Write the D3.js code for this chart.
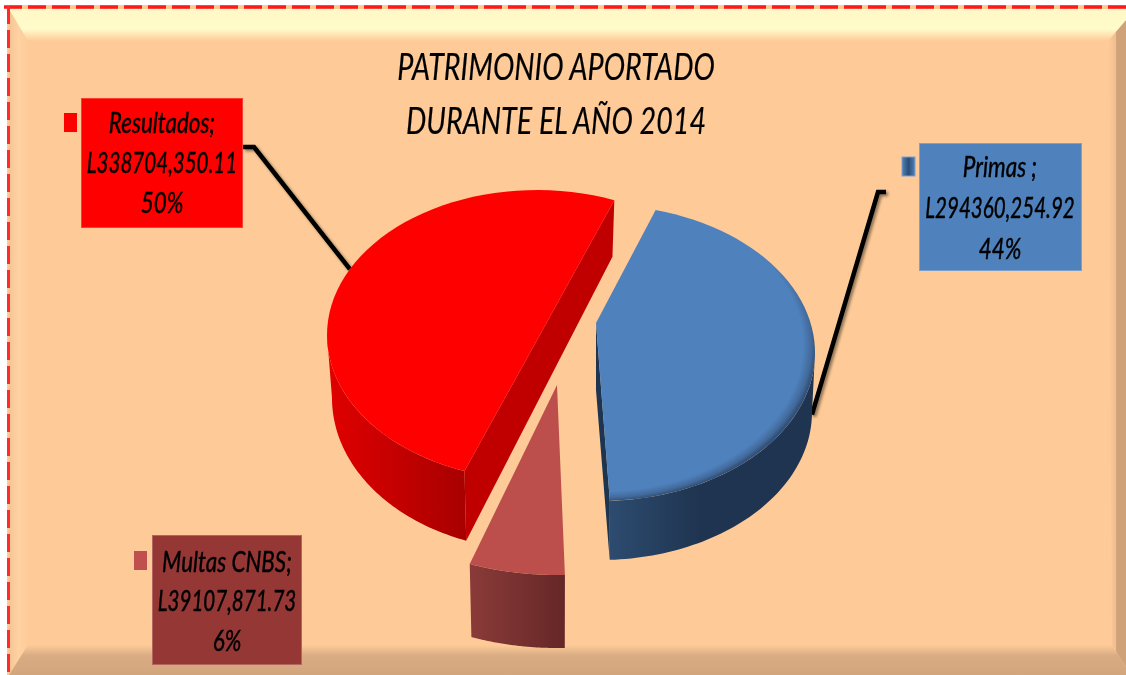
<!DOCTYPE html>
<html><head><meta charset="utf-8">
<script src="https://cdn.jsdelivr.net/npm/d3@7"></script>
<style>html,body{margin:0;padding:0;background:#fff;overflow:hidden}svg{display:block}</style>
</head><body><svg id="c" width="1126" height="675"></svg>
<script>
// ---- data ----
const categories = ["Primas", "Multas CNBS", "Resultados"];
const seriesValues = [294360254.92, 39107871.73, 338704350.11];
const nameLabels = ["Primas ;", "Multas CNBS;", "Resultados;"];
const valueLabels = ["L294360,254.92", "L39107,871.73", "L338704,350.11"];
const percentLabels = ["44%", "6%", "50%"];
const titleLines = ["PATRIMONIO APORTADO", "DURANTE EL AÑO 2014"];

// ---- layout & style ----
const W = 1126, H = 675, rad = Math.PI / 180;
const layout = {
  "Primas": {
    tweak: -6, stretch: 1.03,
    top: {cx:600, cy:353, rx:215, ry:148}, bot: {cx:600, cy:412, rx:212, ry:148},
    apexTop: [596,323], apexBot: [596,390],
    topFill: "url(#blueTop)", wallFill: "url(#blueWall)", inner: "#1d3551", drawInner: "end",
    box: {x:919, y:143, w:163, h:128, fill:"#4F81BD", stroke:"#7ba0cd", textX:1000},
    key: {x:902, y:157, w:13, h:19, fill:"url(#blueKey)", stroke:"#7ba0cd"},
    lines: [177, 218, 259], leader: {from:[886,192], elbow:[878,192], t:91, on:"bot"}
  },
  "Multas CNBS": {
    tweak: -0.4, stretch: 1.02,
    top: {cx:557, cy:385, rx:260, ry:190}, bot: {cx:557, cy:460, rx:255, ry:188},
    apexTop: [557,385], apexBot: [557,460],
    topFill: "#BC4F4C", wallFill: "url(#mulWall)", inner: null,
    box: {x:152, y:535, w:150, h:130, fill:"#953735", stroke:"#b56560", textX:227},
    key: {x:134, y:551, w:13, h:19, fill:"#C0504D", stroke:"none"},
    lines: [572, 611, 651], leader: null
  },
  "Resultados": {
    tweak: 0.6, stretch: 1,
    top: {cx:537, cy:335, rx:210, ry:145}, bot: {cx:537, cy:398, rx:205, ry:152},
    apexTop: [537,335], apexBot: [537,398],
    topFill: "#FF0000", wallFill: "url(#redWall)", inner: "#C00000", drawInner: "start",
    box: {x:81, y:98, w:162, h:130, fill:"#FF0000", stroke:"#ff3b30", textX:162},
    key: {x:64, y:113, w:13, h:19, fill:"#FF0000", stroke:"none"},
    lines: [133, 173, 213], leader: {from:[243,147], elbow:[254,147], t:297, on:"top"}
  }
};
const drawOrder = ["Multas CNBS", "Primas", "Resultados"];

// ---- setup ----
const svg = d3.select("#c");
const defs = svg.append("defs");
function linGrad(id, x1, y1, x2, y2, stops) {
  const g = defs.append("linearGradient").attr("id", id).attr("gradientUnits", "userSpaceOnUse")
    .attr("x1", x1).attr("y1", y1).attr("x2", x2).attr("y2", y2);
  stops.forEach(s => g.append("stop").attr("offset", s[0]).attr("stop-color", s[1]));
}
linGrad("bevTop", 0, 9, 0, 41, [[0,"#FFF8C6"],[0.62,"#FFFBCB"],[0.82,"#FFE2B0"],[1,"#FECB98"]]);
linGrad("bevBot", 0, 645, 0, 675, [[0,"#FECB98"],[0.35,"#D9AC84"],[1,"#D2A57D"]]);
linGrad("bevRight", 1108, 0, 1126, 0, [[0,"#FECB98"],[0.42,"#F2BE90"],[0.48,"#CFA27A"],[1,"#CFA27A"]]);
linGrad("bevLeft", 9, 0, 28, 0, [[0,"#F5C494"],[0.5,"#FFD2A3"],[1,"#FECB98"]]);
linGrad("blueWall", 608, 0, 700, 0, [[0,"#2D4C70"],[1,"#1F3450"]]);
linGrad("redWall", 330, 0, 464, 0, [[0,"#E00000"],[1,"#A80000"]]);
linGrad("mulWall", 470, 0, 566, 0, [[0,"#8A3B39"],[1,"#652726"]]);
linGrad("blueKey", 902, 0, 915, 0, [[0,"#4F81BD"],[0.5,"#2C4D75"],[1,"#4F81BD"]]);
const bt = layout["Primas"].top;
const rg = defs.append("radialGradient").attr("id", "blueTop").attr("gradientUnits", "userSpaceOnUse")
  .attr("cx", 0).attr("cy", 0).attr("r", 1)
  .attr("gradientTransform", `translate(${bt.cx},${bt.cy - 8}) scale(${bt.rx + 1},${bt.ry + 8})`);
[[0,"#4F81BD"],[0.94,"#4F81BD"],[0.98,"#42699A"],[1,"#30517A"]].forEach(s =>
  rg.append("stop").attr("offset", s[0]).attr("stop-color", s[1]));
const soft = defs.append("filter").attr("id", "soft").attr("x", "-5%").attr("y", "-5%").attr("width", "110%").attr("height", "110%");
soft.append("feGaussianBlur").attr("stdDeviation", 0.45);
const shadow = defs.append("filter").attr("id", "lineShadow").attr("x", "-20%").attr("y", "-20%").attr("width", "150%").attr("height", "150%");
shadow.append("feDropShadow").attr("dx", 2).attr("dy", 2).attr("stdDeviation", 1.6).attr("flood-color", "#000").attr("flood-opacity", 0.45);

// ---- frame ----
const poly = d3.line();
svg.append("rect").attr("x", 7).attr("y", 5).attr("width", W - 7).attr("height", H - 5).attr("fill", "#FECB98");
svg.append("path").attr("d", poly([[9,675],[28,645],[28,40],[9,9]]) + "Z").attr("fill", "url(#bevLeft)");
svg.append("path").attr("d", poly([[9,675],[28,645],[1112,645],[1126,667],[1126,675]]) + "Z").attr("fill", "url(#bevBot)");
svg.append("path").attr("d", poly([[1126,20],[1108,40],[1112,645],[1126,667]]) + "Z").attr("fill", "url(#bevRight)");
svg.append("path").attr("d", poly([[9,9],[1126,9],[1126,20],[1108,41],[28,41]]) + "Z").attr("fill", "url(#bevTop)");
svg.append("line").attr("x1", 4).attr("x2", W).attr("y1", 7).attr("y2", 7)
  .attr("stroke", "#FF1A1A").attr("stroke-width", 3.5).attr("stroke-dasharray", "18 6");
svg.append("line").attr("x1", 8.5).attr("x2", 8.5).attr("y1", 6).attr("y2", H)
  .attr("stroke", "#FF2A2A").attr("stroke-width", 3).attr("stroke-dasharray", "18 6");

// ---- pie geometry ----
const arcs = d3.pie().sort(null).startAngle(21 * rad).endAngle(381 * rad)(seriesValues);
const pt = (e, tDeg) => [e.cx + e.rx * Math.sin(tDeg * rad), e.cy - e.ry * Math.cos(tDeg * rad)];
const curve = d3.line().curve(d3.curveLinear);
const sweep = (e, a, b) => d3.range(0, 61).map(i => pt(e, a + (b - a) * i / 60));
const spans = {};
categories.forEach((c, i) => {
  const L = layout[c], a0 = arcs[i].startAngle / rad + L.tweak;
  spans[c] = [a0, a0 + (arcs[i].endAngle - arcs[i].startAngle) / rad * L.stretch];
});

// ---- leader lines (below the pie) ----
const gLead = svg.append("g").attr("filter", "url(#lineShadow)");
categories.forEach(c => {
  const L = layout[c];
  if (!L.leader) return;
  const end = pt(L[L.leader.on], L.leader.t);
  gLead.append("path").attr("d", poly([L.leader.from, L.leader.elbow, end]))
    .attr("fill", "none").attr("stroke", "#000").attr("stroke-width", 4.5);
});

// ---- slices ----
const gPie = svg.append("g");
drawOrder.forEach(c => {
  const L = layout[c], [a, b] = spans[c];
  // outer wall, only the part facing the viewer
  const wa = Math.max(a, 90), wb = Math.min(b, 270);
  gPie.append("path")
    .attr("d", curve(sweep(L.top, wa, wb).concat(sweep(L.bot, wa, wb).reverse())) + "Z")
    .attr("fill", L.wallFill);
  // inner cut wall
  if (L.inner) {
    gPie.append("path")
      .attr("d", poly(L.drawInner === "end"
        ? [L.apexTop, pt(L.top, b), pt(L.bot, b), L.apexBot]
        : [pt(L.top, a), pt(L.top, b), pt(L.bot, b), pt(L.bot, a)]) + "Z")
      .attr("fill", L.inner);
  }
  // top face
  const pts = sweep(L.top, a, b);
  const face = c === "Resultados" ? pts : [L.apexTop].concat(pts);
  gPie.append("path").attr("d", curve(face) + "Z").attr("fill", L.topFill);
});

// ---- labels ----
const FONT = "Lato, 'Open Sans', sans-serif";
const gLab = svg.append("g");
const rowXScale = [0.8, 0.735, 0.8];
categories.forEach((c, i) => {
  const L = layout[c], B = L.box, K = L.key;
  gLab.append("rect").attr("x", K.x).attr("y", K.y).attr("width", K.w).attr("height", K.h)
    .attr("fill", K.fill).attr("stroke", K.stroke);
  gLab.append("rect").attr("x", B.x + .5).attr("y", B.y + .5).attr("width", B.w - 1).attr("height", B.h - 1)
    .attr("fill", B.fill).attr("stroke", B.stroke);
  [nameLabels[i], valueLabels[i], percentLabels[i]].forEach((s, j) => {
    gLab.append("text").attr("transform", `translate(${B.textX},${L.lines[j]}) scale(${rowXScale[j]},1)`)
      .attr("text-anchor", "middle").attr("font-family", FONT).attr("font-style", "italic")
      .attr("font-size", 28).attr("fill", "#000").attr("stroke", "#000").attr("stroke-width", 0.45)
      .attr("filter", "url(#soft)").text(s);
  });
});
titleLines.forEach((s, j) => {
  svg.append("text").attr("transform", `translate(556,${[80, 134][j]}) scale(0.775,1)`)
    .attr("text-anchor", "middle").attr("font-family", FONT).attr("font-style", "italic")
    .attr("font-size", 37).attr("fill", "#000").attr("stroke", "#000").attr("stroke-width", 0.2)
    .attr("filter", "url(#soft)").text(s);
});
</script></body></html>
